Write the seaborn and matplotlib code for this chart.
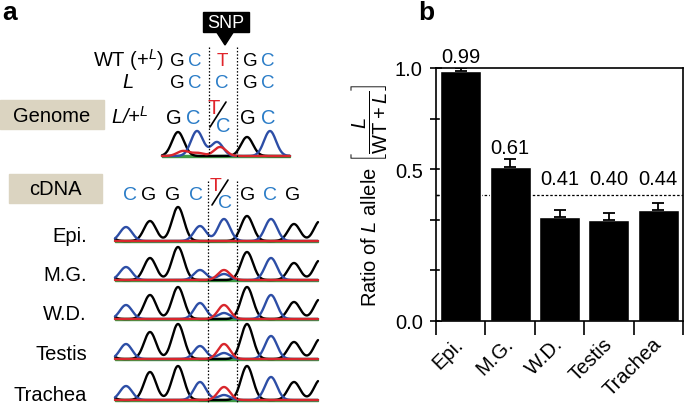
import matplotlib

matplotlib.use("Agg")
import matplotlib.pyplot as plt
import numpy as np
import pandas as pd
import seaborn as sns
from matplotlib.patches import Rectangle, Polygon

# --- panel b data ---
tissues = ["Epi.", "M.G.", "W.D.", "Testis", "Trachea"]
ratio = [0.99, 0.61, 0.41, 0.40, 0.44]
ratio_err = [0.01, 0.03, 0.03, 0.025, 0.025]
y_ticks = [0.0, 0.2, 0.4, 0.6, 0.8, 1.0]
y_tick_labels = ["0.0", "", "", "0.5", "", "1.0"]
het_line = 0.5

# --- panel a data (sequences + chromatogram peaks) ---
wt_seq = ["G", "C", "T", "G", "C"]
l_seq = ["G", "C", "C", "G", "C"]
cdna_seq = ["C", "G", "G", "C", "T/C", "G", "C", "G"]
genome_seq = ["G", "C", "T/C", "G", "C"]

genome_peak_x = [178, 197, 217, 247, 270, 183, 198, 220]
genome_peak_ch = ["G", "C", "C", "G", "C", "T", "T", "T"]
genome_peak_h = [24, 25, 14, 19, 25, 5, 3, 9]

cdna_peak_x = [104, 126, 150, 178, 200, 224, 247, 271, 294, 320]
cdna_peak_ch = ["G", "C", "G", "G", "C", "C", "G", "C", "G", "G"]
cdna_heights = {
    "Epi.":    [12, 14, 20, 34, 15, 22, 25, 22, 17, 20],
    "M.G.":    [12, 13, 22, 33, 10, 6, 28, 22, 17, 20],
    "W.D.":    [12, 14, 24, 32, 16, 6, 32, 24, 17, 20],
    "Testis":  [12, 15, 27, 35, 13, 6, 35, 23, 17, 20],
    "Trachea": [12, 14, 28, 34, 18, 5, 34, 23, 18, 20],
}
snp_red = [0, 10, 14, 15, 13]

sns.set_style("ticks")
plt.rcParams["font.family"] = ["Liberation Sans", "DejaVu Sans"]
plt.rcParams["mathtext.fontset"] = "custom"
plt.rcParams["mathtext.rm"] = "Liberation Sans"
plt.rcParams["mathtext.it"] = "Liberation Sans:italic"
plt.rcParams["mathtext.bf"] = "Liberation Sans:bold"
for k in ("text.color", "axes.labelcolor", "xtick.color", "ytick.color"):
    plt.rcParams[k] = "black"

TRACE_COL = {"A": "#3f9a45", "G": "black", "C": "#2d4ea6", "T": "#d8262c"}
LETTER_COL = {"G": "black", "C": "#2a7cc7", "T": "#e0242b"}
BEIGE = "#dbd4c1"
FS = 14.5

fig = plt.figure(figsize=(6.85, 4.06), dpi=100)

# ---------------- panel a ----------------
ax = fig.add_axes([0, 0, 1, 1])
ax.set_xlim(0, 685)
ax.set_ylim(406, 0)
ax.axis("off")


def trace(x0, x1, base, xs_peak, chans, heights, sigma=6.0):
    xs = np.linspace(x0, x1, 400)
    for ch in ["A", "G", "C", "T"]:
        y = np.zeros_like(xs)
        for c, k, h in zip(xs_peak, chans, heights):
            if k == ch:
                y += h * np.exp(-0.5 * ((xs - c) / sigma) ** 2)
        ax.plot(xs, base - y, color=TRACE_COL[ch], lw=1.7, solid_capstyle="round")


def het_letter(x, y, fs):
    ax.text(x - 5, y - 9, "T", color=LETTER_COL["T"], fontsize=fs, ha="center", va="center")
    ax.text(x + 4, y + 8, "C", color=LETTER_COL["C"], fontsize=fs, ha="center", va="center")
    ax.plot([x - 9, x + 7], [y + 10, y - 15], color="black", lw=1.2)


def seq_row(seq, xs, y, fs):
    for s, x in zip(seq, xs):
        if s == "T/C":
            het_letter(x, y, fs)
        else:
            ax.text(x, y, s, color=LETTER_COL[s], fontsize=fs, ha="center", va="center")


ax.text(2, 1, "a", fontsize=19, fontweight="bold", va="top", ha="left")

# SNP callout
ax.add_patch(Rectangle((203, 13), 46, 20, color="black"))
ax.add_patch(Polygon([(216, 32), (234, 32), (225, 46)], color="black"))
ax.text(226, 23.5, "SNP", color="white", fontsize=13, ha="center", va="center")

ax.text(164, 60, r"WT (+$^{L}$)", fontsize=FS, ha="right", va="center")
ax.text(128, 83, r"$L$", fontsize=FS, ha="center", va="center")
seq_row(wt_seq, [177, 195, 222, 250, 268], 62, 13.5)
seq_row(l_seq, [177, 195, 222, 250, 268], 83, 13.5)

ax.add_patch(Rectangle((0, 101), 104, 29, color=BEIGE))
ax.text(52, 116, "Genome", fontsize=FS, ha="center", va="center")
ax.text(111, 117, r"$L$/+$^{L}$", fontsize=FS, ha="left", va="center", style="italic")
seq_row(genome_seq, [174, 193, 219, 248, 268], 118, 14.5)
trace(162, 290, 157, genome_peak_x, genome_peak_ch, genome_peak_h)
ax.plot([162, 290], [157.5, 157.5], color=TRACE_COL["A"], lw=1.0, zorder=0)
for x in (209, 237):
    ax.plot([x, x], [48, 158], color="black", lw=0.9, ls=(0, (1.2, 1.5)))

ax.add_patch(Rectangle((9, 175), 93, 29, color=BEIGE))
ax.text(55, 190, "cDNA", fontsize=FS, ha="center", va="center")
seq_row(cdna_seq, [130, 149, 173, 196, 221, 248, 270, 293], 196, 14)

row_base = [242, 281, 320, 360, 401]
for i, name in enumerate(tissues):
    base = row_base[i]
    ax.text(87, base - 5, name, fontsize=FS, ha="right", va="center")
    xs_p = cdna_peak_x + [cdna_peak_x[5]]
    ch_p = cdna_peak_ch + ["T"]
    h_p = cdna_heights[name] + [snp_red[i]]
    ax.plot([115, 318], [base + 0.5, base + 0.5], color=TRACE_COL["A"], lw=1.0, zorder=0)
    trace(115, 318, base, xs_p, ch_p, h_p)
for x in (208, 237):
    ax.plot([x, x], [182, 404], color="black", lw=0.9, ls=(0, (1.2, 1.5)))

# ---------------- panel b ----------------
fig.text(418 / 685, 1 - 1 / 406, "b", fontsize=19, fontweight="bold", va="top", ha="left")
axb = fig.add_axes([436 / 685, 84 / 406, 247 / 685, 253 / 406])
df = pd.DataFrame({"tissue": tissues, "ratio": ratio})
sns.barplot(data=df, x="tissue", y="ratio", color="black", saturation=1,
            width=0.83, errorbar=None, ax=axb)
axb.errorbar(range(len(tissues)), ratio, yerr=[np.zeros(len(ratio)), ratio_err],
             fmt="none", ecolor="black", elinewidth=1.3, capsize=4, capthick=1.3)
axb.axhline(het_line, color="black", lw=0.9, ls=(0, (2, 1.5)), zorder=0)

for i, (v, e) in enumerate(zip(ratio, ratio_err)):
    top = max(v + e, het_line + 0.015)
    axb.text(i, top + 0.025, f"{v:.2f}", ha="center", va="baseline", fontsize=FS, clip_on=False)

axb.set_xlim(-0.5, len(tissues) - 0.5)
axb.set_ylim(0, 1)
axb.set_yticks(y_ticks)
axb.set_yticklabels(y_tick_labels)
axb.set_yticks([het_line], minor=True)
axb.tick_params(axis="y", which="major", direction="inout", length=9, width=1.2,
                labelsize=FS, pad=5)
axb.tick_params(axis="y", which="minor", direction="in", length=4, width=1.0)
axb.set_xticks(np.arange(-0.5, len(tissues), 1), minor=True)
axb.tick_params(axis="x", which="minor", direction="out", length=10, width=1.2)
axb.tick_params(axis="x", which="major", length=0, labelsize=FS, pad=14)
for lbl in axb.get_xticklabels():
    lbl.set_rotation(45)
    lbl.set_ha("right")
    lbl.set_va("center")
    lbl.set_rotation_mode("anchor")
for sp in axb.spines.values():
    sp.set_visible(True)
    sp.set_linewidth(1.2)
    sp.set_color("black")
axb.set_xlabel("")
axb.set_ylabel(r"Ratio of $L$ allele $\left[\dfrac{L}{\mathrm{WT} + L}\right]$", fontsize=FS)
axb.yaxis.set_label_coords(-0.19, 0.5)

fig.savefig("out.png", dpi=100)
